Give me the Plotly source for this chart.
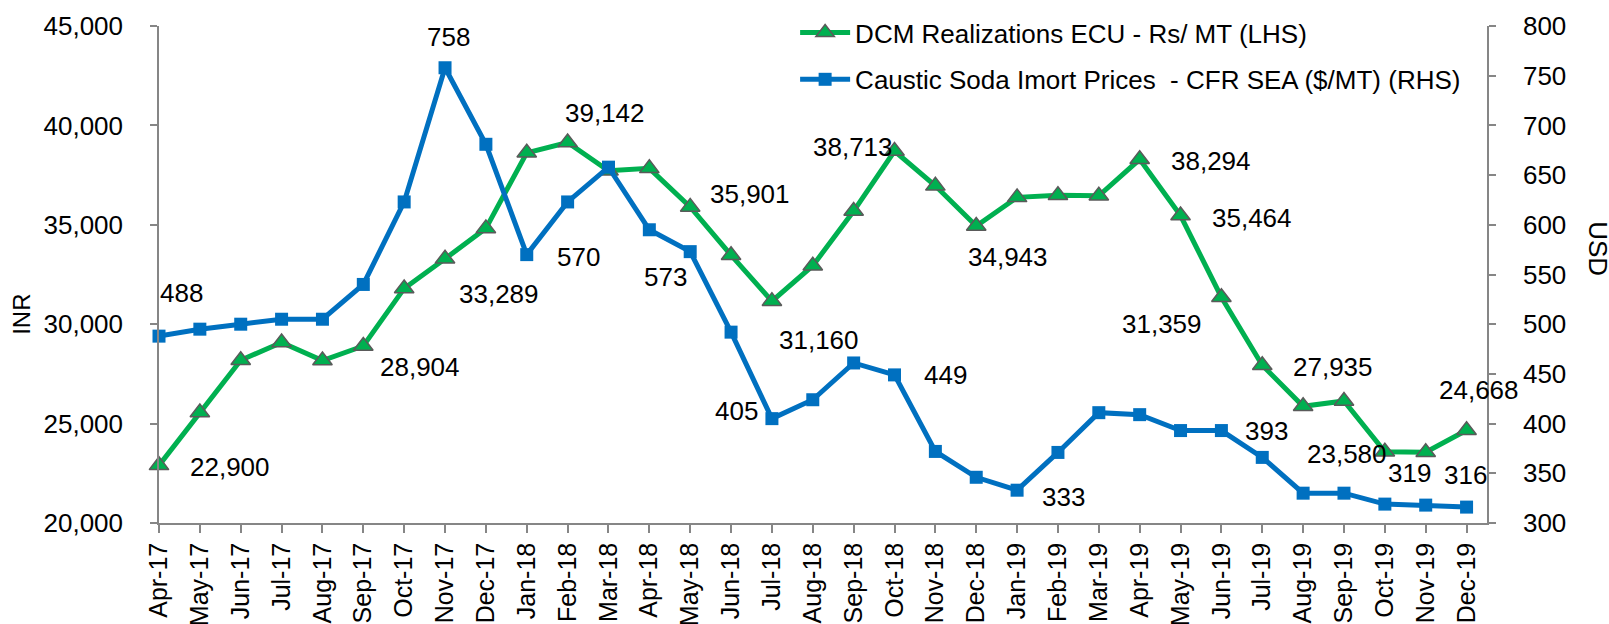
import plotly.graph_objects as go

months = ["Apr-17", "May-17", "Jun-17", "Jul-17", "Aug-17", "Sep-17", "Oct-17", "Nov-17",
          "Dec-17", "Jan-18", "Feb-18", "Mar-18", "Apr-18", "May-18", "Jun-18", "Jul-18",
          "Aug-18", "Sep-18", "Oct-18", "Nov-18", "Dec-18", "Jan-19", "Feb-19", "Mar-19",
          "Apr-19", "May-19", "Jun-19", "Jul-19", "Aug-19", "Sep-19", "Oct-19", "Nov-19", "Dec-19"]

dcm_inr = [22900, 25560, 28190, 29080, 28170, 28904, 31800, 33289,
           34820, 38620, 39142, 37720, 37840, 35901, 33470, 31160,
           32940, 35690, 38713, 36960, 34943, 36380, 36490, 36460,
           38294, 35464, 31359, 27935, 25870, 26140, 23580, 23560, 24668]

soda_usd = [488, 495, 500, 505, 505, 540, 623, 758,
            681, 570, 623, 658, 595, 573, 492, 405,
            424, 461, 449, 372, 346, 333, 371, 411,
            409, 393, 393, 366, 330, 330, 319, 318, 316]

left_ticks = [20000, 25000, 30000, 35000, 40000, 45000]
right_ticks = [300, 350, 400, 450, 500, 550, 600, 650, 700, 750, 800]

# data label placement: (series, month index, x shift px, y shift px)
label_spots = [
    ("dcm", 0, 71, -2), ("dcm", 5, 57, -21), ("dcm", 7, 54, -35), ("dcm", 10, 37, 29),
    ("dcm", 13, 60, 13), ("dcm", 15, 47, -39), ("dcm", 18, -42, 4), ("dcm", 20, 32, -31),
    ("dcm", 24, 71, -2), ("dcm", 25, 71, -2), ("dcm", 26, -59, -27), ("dcm", 27, 71, -2),
    ("dcm", 30, -38, -2), ("dcm", 32, 12, 40),
    ("soda", 0, 22, 43), ("soda", 7, 3, 31), ("soda", 9, 52, -2), ("soda", 13, -25, -25),
    ("soda", 15, -35, 8), ("soda", 18, 51, 0), ("soda", 21, 46, -7), ("soda", 26, 45, 0),
    ("soda", 30, 25, 31), ("soda", 32, -1, 32),
]

FONT = "Liberation Sans, Arial, sans-serif"
GREEN = "#00B050"
BLUE = "#0070C0"
AXIS = "#868686"

x = list(range(len(months)))

fig = go.Figure()
fig.add_trace(go.Scatter(
    x=x, y=dcm_inr, name="DCM Realizations ECU - Rs/ MT (LHS)",
    mode="lines+markers", yaxis="y", cliponaxis=False, legendgroup="a",
    line=dict(color=GREEN, width=5),
    marker=dict(symbol="triangle-up", size=17, color=GREEN,
                line=dict(color="#5a5a5a", width=1.5)),
))
fig.add_trace(go.Scatter(
    x=x, y=soda_usd, name="Caustic Soda Imort Prices  - CFR SEA ($/MT) (RHS)",
    mode="lines+markers", yaxis="y2", cliponaxis=False, legendgroup="b",
    line=dict(color=BLUE, width=5),
    marker=dict(symbol="square", size=13, color=BLUE, line=dict(width=0)),
))

annotations = []
for series, i, dx, dy in label_spots:
    if series == "dcm":
        val, yref, txt = dcm_inr[i], "y", f"{dcm_inr[i]:,}"
    else:
        val, yref, txt = soda_usd[i], "y2", f"{soda_usd[i]:,}"
    annotations.append(dict(x=i, y=val, xref="x", yref=yref, text=txt, showarrow=False,
                            xanchor="center", yanchor="middle",
                            xshift=dx, yshift=dy, font=dict(size=26, color="black", family=FONT)))

annotations.append(dict(x=-0.1035, y=0.42, xref="paper", yref="paper", text="INR", showarrow=False,
                        xanchor="center", yanchor="middle",
                        textangle=-90, font=dict(size=24, color="black", family=FONT)))
annotations.append(dict(x=1.0836, y=0.553, xref="paper", yref="paper", text="USD", showarrow=False,
                        xanchor="center", yanchor="middle",
                        textangle=90, font=dict(size=26, color="black", family=FONT)))

fig.update_layout(
    width=1609, height=624,
    margin=dict(l=159, r=122, t=26, b=101, autoexpand=False),
    plot_bgcolor="white", paper_bgcolor="white",
    font=dict(family=FONT, size=26, color="black"),
    showlegend=True,
    legend=dict(x=0.479, y=1.034, xanchor="left", yanchor="top",
                bgcolor="rgba(0,0,0,0)", font=dict(size=26, color="black", family=FONT),
                tracegroupgap=10, itemwidth=50),
    xaxis=dict(range=[0, 32.5], tickmode="array", tickvals=x, ticktext=months,
               tickangle=-90, showgrid=False, zeroline=False, showline=True,
               linecolor=AXIS, linewidth=1.5, ticks="outside", ticklen=8, tickcolor=AXIS,
               tickwidth=1.5, tickfont=dict(size=25, family=FONT, color="black"),
               automargin=False),
    yaxis=dict(range=[20000, 45000], tickvals=left_ticks, tickformat=",",
               showgrid=False, zeroline=False, showline=True, linecolor=AXIS, linewidth=1.5,
               ticks="outside", ticklen=7, tickcolor=AXIS, tickwidth=1.5,
               tickfont=dict(size=26, family=FONT, color="black"), automargin=False,
               ticklabelstandoff=22),
    yaxis2=dict(range=[300, 800], tickvals=right_ticks, overlaying="y", side="right",
                showgrid=False, zeroline=False, showline=True, linecolor=AXIS, linewidth=1.5,
                ticks="outside", ticklen=7, tickcolor=AXIS, tickwidth=1.5,
                tickfont=dict(size=26, family=FONT, color="black"), automargin=False,
                ticklabelstandoff=22),
    annotations=annotations,
)

fig.write_html(
    "out.html",
    config={"displayModeBar": False},
    post_script="document.body.style.margin='0';document.body.style.overflow='hidden';",
)
